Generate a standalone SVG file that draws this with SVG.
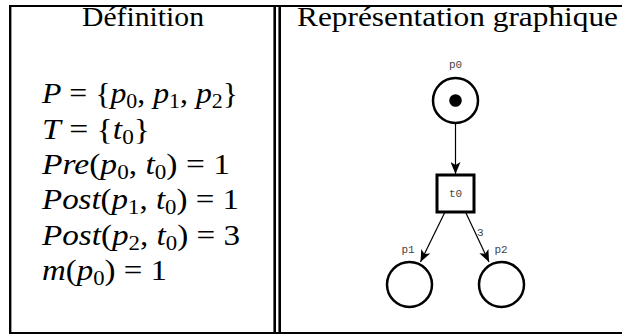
<svg xmlns="http://www.w3.org/2000/svg" width="622" height="335" viewBox="0 0 622 335">
<style>
.rule{stroke:#000;fill:none}
.hd{font-family:"Liberation Serif",serif;font-size:28px;fill:#000}
.m{font-family:"Liberation Serif",serif;font-size:29px;fill:#000}
.i{font-style:italic}
.s{font-size:20px}
.place{fill:#fff;stroke:#000;stroke-width:2.5}
.trans{fill:#fff;stroke:#000;stroke-width:3}
.lbl{font-family:"Liberation Mono",monospace;font-size:11px;fill:#444}
.arc{stroke:#000;stroke-width:1.2;fill:none;marker-end:url(#ah)}
</style>
<defs>
<marker id="ah" viewBox="0 0 12 10" refX="12" refY="5" markerWidth="12" markerHeight="10" markerUnits="userSpaceOnUse" orient="auto">
<path d="M0,0 L12,5 L0,10 L3,5 z" fill="#000"/>
</marker>
</defs>
<rect width="622" height="335" fill="#fff"/>
<g id="table">
<line class="rule" x1="9" y1="6" x2="622" y2="6" stroke-width="2.2"/>
<line class="rule" x1="9" y1="333" x2="622" y2="333" stroke-width="2.2"/>
<line class="rule" x1="10.2" y1="5" x2="10.2" y2="334" stroke-width="2.4"/>
<line class="rule" x1="274.7" y1="5" x2="274.7" y2="334" stroke-width="2.6"/>
<line class="rule" x1="279.7" y1="5" x2="279.7" y2="334" stroke-width="2.6"/>
<text class="hd" x="82" y="26" textLength="122" lengthAdjust="spacingAndGlyphs">Définition</text>
<text class="hd" x="297" y="26" textLength="321" lengthAdjust="spacingAndGlyphs">Représentation graphique</text>
</g>
<g id="definition">
<text class="m" x="42" y="103" textLength="196" lengthAdjust="spacingAndGlyphs"><tspan class="i">P</tspan> = {<tspan class="i">p</tspan><tspan class="s" dy="5">0</tspan><tspan dy="-5">, </tspan><tspan class="i">p</tspan><tspan class="s" dy="5">1</tspan><tspan dy="-5">, </tspan><tspan class="i">p</tspan><tspan class="s" dy="5">2</tspan><tspan dy="-5">}</tspan></text>
<text class="m" x="42" y="139" textLength="108" lengthAdjust="spacingAndGlyphs"><tspan class="i">T</tspan> = {<tspan class="i">t</tspan><tspan class="s" dy="5">0</tspan><tspan dy="-5">}</tspan></text>
<text class="m" x="42" y="174" textLength="188" lengthAdjust="spacingAndGlyphs"><tspan class="i">Pre</tspan>(<tspan class="i">p</tspan><tspan class="s" dy="5">0</tspan><tspan dy="-5">, </tspan><tspan class="i">t</tspan><tspan class="s" dy="5">0</tspan><tspan dy="-5">) = 1</tspan></text>
<text class="m" x="42" y="209" textLength="197" lengthAdjust="spacingAndGlyphs"><tspan class="i">Post</tspan>(<tspan class="i">p</tspan><tspan class="s" dy="5">1</tspan><tspan dy="-5">, </tspan><tspan class="i">t</tspan><tspan class="s" dy="5">0</tspan><tspan dy="-5">) = 1</tspan></text>
<text class="m" x="42" y="245" textLength="198" lengthAdjust="spacingAndGlyphs"><tspan class="i">Post</tspan>(<tspan class="i">p</tspan><tspan class="s" dy="5">2</tspan><tspan dy="-5">, </tspan><tspan class="i">t</tspan><tspan class="s" dy="5">0</tspan><tspan dy="-5">) = 3</tspan></text>
<text class="m" x="42" y="280" textLength="125" lengthAdjust="spacingAndGlyphs"><tspan class="i">m</tspan>(<tspan class="i">p</tspan><tspan class="s" dy="5">0</tspan><tspan dy="-5">) = 1</tspan></text>
</g>
<g id="connectors">
<line class="arc" x1="455.5" y1="124" x2="455.5" y2="174"/>
<line class="arc" x1="445" y1="212" x2="420.5" y2="262"/>
<line class="arc" x1="465.5" y1="212" x2="489" y2="262"/>
<text class="lbl" x="477" y="236">3</text>
</g>
<g id="p0">
<circle class="place" cx="455.5" cy="100.5" r="22.5"/>
<circle cx="455.5" cy="100.5" r="6.3" fill="#000"/>
<text class="lbl" x="455.5" y="68" text-anchor="middle">p0</text>
</g>
<g id="t0">
<rect class="trans" x="437" y="175" width="37" height="37"/>
<text class="lbl" x="455.5" y="197" text-anchor="middle">t0</text>
</g>
<g id="p1">
<circle class="place" cx="409.5" cy="284.5" r="22.5"/>
<text class="lbl" x="408" y="253" text-anchor="middle">p1</text>
</g>
<g id="p2">
<circle class="place" cx="501.5" cy="284.5" r="22.5"/>
<text class="lbl" x="501" y="253" text-anchor="middle">p2</text>
</g>
</svg>
